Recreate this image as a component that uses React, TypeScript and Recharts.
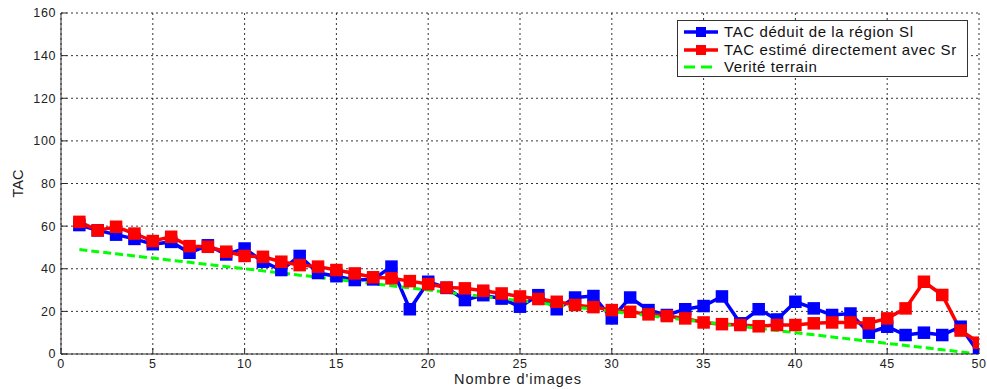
import React from 'react';
import { LineChart, Line, XAxis, YAxis, CartesianGrid, Legend } from 'recharts';

const imageIndex = [
  1, 2, 3, 4, 5, 6, 7, 8, 9, 10, 11, 12, 13, 14, 15, 16, 17, 18, 19, 20, 21, 22, 23, 24, 25,
  26, 27, 28, 29, 30, 31, 32, 33, 34, 35, 36, 37, 38, 39, 40, 41, 42, 43, 44, 45, 46, 47, 48, 49, 50,
];

const tacRegionSI = [
  60.5, 58, 56, 54, 51.5, 52.6, 47.5, 51, 46.7, 49.5,
  43.3, 39.4, 46, 38, 36.5, 34.7, 35, 41, 21, 33.9,
  31, 25.3, 27.6, 26, 22.2, 27.6, 21, 26.5, 27.2, 16.7,
  26.5, 20.6, 18.3, 21, 22.5, 27, 14.4, 21, 16.2, 24.5,
  21.4, 18.3, 19, 10, 12.8, 8.9, 10, 8.9, 12.8, 0.3,
];

const tacDirectSr = [
  62, 58, 59.7, 56.5, 53, 55, 50.6, 50.3, 48, 46,
  45.6, 43.3, 41.7, 41, 39.4, 37.8, 36, 35.5, 34.2, 32.8,
  31.2, 30.8, 29.7, 28.4, 27, 25.8, 24.5, 23, 22, 20.6,
  19.8, 18.6, 17.8, 16.7, 14.8, 14, 13.6, 13, 13.6, 13.6,
  14.4, 14.8, 14.8, 14.4, 16.7, 21.4, 33.9, 27.7, 11, 5.3,
];

const veriteTerrain = [
  49, 48, 47, 46, 45, 44, 43, 42, 41, 40,
  39, 38, 37, 36, 35, 34, 33, 32, 31, 30,
  29, 28, 27, 26, 25, 24, 23, 22, 21, 20,
  19, 18, 17, 16, 15, 14, 13, 12, 11, 10,
  9, 8, 7, 6, 5, 4, 3, 2, 1, 0,
];

const xTicks = [0, 5, 10, 15, 20, 25, 30, 35, 40, 45, 50];
const yTicks = [0, 20, 40, 60, 80, 100, 120, 140, 160];

const seriesNames = ['TAC déduit de la région Sl', 'TAC estimé directement avec Sr', 'Verité terrain'];
const seriesColors = ['#0000ff', '#ff0000', '#00ff00'];

const data = imageIndex.map((x, i) => ({
  x,
  si: tacRegionSI[i],
  sr: tacDirectSr[i],
  vt: veriteTerrain[i],
}));

const FONT = '"Liberation Sans", Arial, sans-serif';
const AXIS = '#2a2a2a';
const TICK_LEN = 6;

const YTick = (props: any) => {
  const { x, y, payload } = props;
  const ax = x + 5;
  return (
    <g>
      <line x1={ax} x2={ax + TICK_LEN} y1={y} y2={y} stroke={AXIS} strokeWidth={1} />
      <text x={x} y={y} dy="0.35em" textAnchor="end" fontSize={12.5} fill="#222" fontFamily={FONT} letterSpacing={0.6}>
        {payload.value}
      </text>
    </g>
  );
};

const XTick = (props: any) => {
  const { x, y, payload } = props;
  const ay = y - 5;
  return (
    <g>
      <line x1={x} x2={x} y1={ay} y2={ay - TICK_LEN} stroke={AXIS} strokeWidth={1} />
      <text x={x} y={y} dy="0.75em" textAnchor="middle" fontSize={12.5} fill="#222" fontFamily={FONT} letterSpacing={0.6}>
        {payload.value}
      </text>
    </g>
  );
};

const TopTick = (props: any) => {
  const { x, y } = props;
  return <line x1={x} x2={x} y1={y} y2={y + TICK_LEN} stroke={AXIS} strokeWidth={1} />;
};

const RightTick = (props: any) => {
  const { x, y } = props;
  return <line x1={x} x2={x - TICK_LEN} y1={y} y2={y} stroke={AXIS} strokeWidth={1} />;
};

const XLabel = (props: any) => {
  const vb = props.viewBox || { x: 61, y: 354, width: 918, height: 35 };
  return (
    <text x={vb.x + vb.width / 2 - 2} y={vb.y + 30} textAnchor="middle" fontSize={14.5} fill="#222" fontFamily={FONT} letterSpacing={1}>
      Nombre d'images
    </text>
  );
};

const YLabel = (props: any) => {
  const vb = props.viewBox || { x: 0, y: 13, width: 61, height: 341 };
  const cx = vb.x + 18;
  const cy = vb.y + vb.height / 2;
  return (
    <text x={cx} y={cy} transform={`rotate(-90 ${cx} ${cy})`} textAnchor="middle" dominantBaseline="central" fontSize={14.5} fill="#222" fontFamily={FONT}>
      TAC
    </text>
  );
};

const squareDot = (color: string) => (p: any) => {
  if (p.cx == null || p.cy == null) return <g key={`n-${p.index}`} />;
  return (
    <rect
      key={`d-${color}-${p.index}`}
      x={p.cx - 5.5}
      y={p.cy - 5.5}
      width={11}
      height={11}
      fill={color}
      stroke={color}
      strokeWidth={1.5}
    />
  );
};

const LegendBox = () => (
  <div
    style={{
      border: '1px solid #333',
      background: '#fff',
      width: 289,
      height: 53,
      paddingTop: 2,
      fontFamily: FONT,
      fontSize: 15,
      color: '#111',
      boxSizing: 'content-box',
    }}
  >
    {seriesNames.map((name, i) => (
      <div key={name} style={{ display: 'flex', alignItems: 'center', height: 17.7, lineHeight: '17.7px' }}>
        <svg width={36} height={14} style={{ marginLeft: 6, flex: 'none' }}>
          {i < 2 ? (
            <>
              <line x1={0} x2={34} y1={7} y2={7} stroke={seriesColors[i]} strokeWidth={3.5} />
              <rect x={12} y={2} width={10} height={10} fill={seriesColors[i]} />
            </>
          ) : (
            <line x1={0} x2={34} y1={7} y2={7} stroke={seriesColors[i]} strokeWidth={3} strokeDasharray="11 6" />
          )}
        </svg>
        <span style={{ marginLeft: 4, whiteSpace: 'nowrap', letterSpacing: 0.6 }}>{name}</span>
      </div>
    ))}
  </div>
);

export default function App() {
  return (
    <div style={{ position: 'absolute', left: 0, top: 0, width: 987, height: 389, background: '#fff' }}>
      <LineChart
        width={987}
        height={389}
        data={data}
        margin={{ top: 13, right: 8, bottom: 0, left: 0 }}
        style={{ fontFamily: FONT }}
      >
        <CartesianGrid stroke="#000" strokeDasharray="2 3" strokeWidth={0.8} />
        <XAxis
          dataKey="x"
          type="number"
          domain={[0, 50]}
          ticks={xTicks}
          interval={0}
          height={35}
          tickSize={0}
          tickMargin={5}
          tickLine={false}
          axisLine={{ stroke: AXIS }}
          tick={<XTick />}
          label={<XLabel />}
          allowDataOverflow
        />
        <XAxis
          xAxisId="top"
          orientation="top"
          type="number"
          domain={[0, 50]}
          ticks={xTicks}
          interval={0}
          height={0}
          tickSize={0}
          tickMargin={0}
          tickLine={false}
          axisLine={{ stroke: AXIS }}
          tick={<TopTick />}
          allowDataOverflow
        />
        <YAxis
          type="number"
          domain={[0, 160]}
          ticks={yTicks}
          interval={0}
          width={61}
          tickSize={0}
          tickMargin={5}
          tickLine={false}
          axisLine={{ stroke: AXIS }}
          tick={<YTick />}
          label={<YLabel />}
          allowDataOverflow
        />
        <YAxis
          yAxisId="right"
          orientation="right"
          type="number"
          domain={[0, 160]}
          ticks={yTicks}
          interval={0}
          width={0}
          tickSize={0}
          tickMargin={0}
          tickLine={false}
          axisLine={{ stroke: AXIS }}
          tick={<RightTick />}
          allowDataOverflow
        />
        <Legend
          layout="vertical"
          align="center"
          verticalAlign="middle"
          content={<LegendBox />}
          wrapperStyle={{ left: 677, top: 20, width: 291, height: 57 }}
        />
        <Line
          dataKey="si"
          name={seriesNames[0]}
          stroke={seriesColors[0]}
          strokeWidth={3.5}
          dot={squareDot(seriesColors[0])}
          activeDot={false}
          isAnimationActive={false}
        />
        <Line
          dataKey="sr"
          name={seriesNames[1]}
          stroke={seriesColors[1]}
          strokeWidth={3.5}
          dot={squareDot(seriesColors[1])}
          activeDot={false}
          isAnimationActive={false}
        />
        <Line
          dataKey="vt"
          name={seriesNames[2]}
          stroke={seriesColors[2]}
          strokeWidth={3}
          strokeDasharray="8 4"
          dot={false}
          activeDot={false}
          isAnimationActive={false}
        />
      </LineChart>
    </div>
  );
}
